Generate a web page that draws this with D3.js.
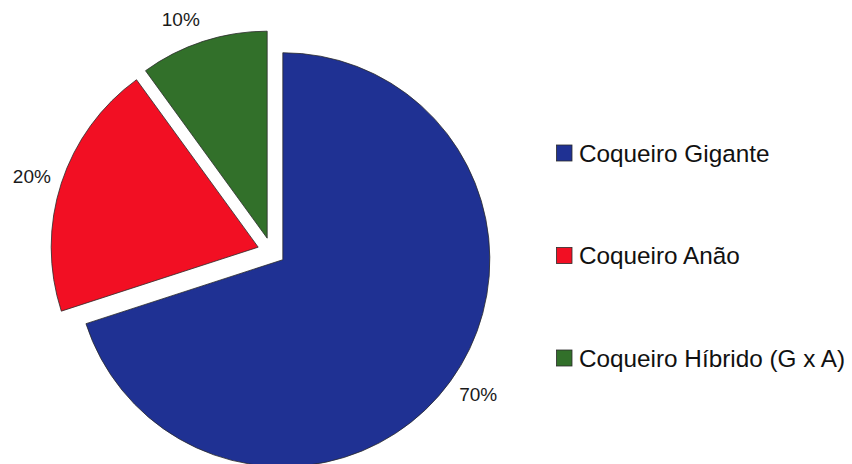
<!DOCTYPE html>
<html>
<head>
<meta charset="utf-8">
<script src="https://cdn.jsdelivr.net/npm/d3@7"></script>
<style>
  html, body { margin: 0; padding: 0; background: #fff; }
  svg { display: block; }
</style>
</head>
<body>
<svg id="chart" width="852" height="464"></svg>
<script>
// Cultivar shares
const categories = ["Coqueiro Gigante", "Coqueiro Anão", "Coqueiro Híbrido (G x A)"];
const shares = [70, 20, 10];
const percentLabels = ["70%", "20%", "10%"];
const colors = ["#1f3193", "#f20f23", "#32702a"];

const W = 852, H = 464;
const cx = 271.5, cy = 251.5;   // pie centre
const radius = 207;
const explode = 14;             // every slice pulled out along its mid-angle
const labelR = 232;

const svg = d3.select("#chart");
const font = "'Liberation Sans', Arial, sans-serif";

const data = categories.map((c, i) => ({ name: c, value: shares[i], label: percentLabels[i], color: colors[i] }));

const pie = d3.pie().value(d => d.value).sort(null).startAngle(0).endAngle(2 * Math.PI);
const arc = d3.arc().innerRadius(0).outerRadius(radius);
const arcs = pie(data);

const g = svg.append("g").attr("transform", `translate(${cx},${cy})`);

g.selectAll("path.slice")
  .data(arcs)
  .join("path")
  .attr("class", "slice")
  .attr("transform", d => {
    const a = (d.startAngle + d.endAngle) / 2;
    return `translate(${Math.sin(a) * explode},${-Math.cos(a) * explode})`;
  })
  .attr("d", arc)
  .attr("fill", d => d.data.color)
  .attr("stroke", "#2b2b2b")
  .attr("stroke-width", 0.8);

// Percentage labels just outside each slice
const fs = 19;
g.selectAll("text.pct")
  .data(arcs)
  .join("text")
  .attr("class", "pct")
  .attr("x", d => {
    const a = (d.startAngle + d.endAngle) / 2;
    return Math.sin(a) * labelR;
  })
  .attr("y", d => {
    const a = (d.startAngle + d.endAngle) / 2;
    const py = -Math.cos(a) * labelR;
    return py - Math.cos(a) * 12;
  })
  .attr("text-anchor", d => Math.sin((d.startAngle + d.endAngle) / 2) >= 0 ? "start" : "end")
  .attr("dominant-baseline", "central")
  .attr("font-family", font)
  .attr("font-size", fs)
  .attr("fill", "#1a1a1a")
  .text(d => d.data.label);

// Legend
const legendY = d3.scalePoint().domain(categories).range([161.5, 366.5]);
const legend = svg.append("g");
const items = legend.selectAll("g.item")
  .data(data)
  .join("g")
  .attr("class", "item")
  .attr("transform", d => `translate(556,${legendY(d.name)})`);

items.append("rect")
  .attr("x", 0.5).attr("y", -16.5)
  .attr("width", 15.5).attr("height", 16)
  .attr("fill", d => d.color)
  .attr("stroke", "#2b2b2b")
  .attr("stroke-width", 0.8);

items.append("text")
  .attr("x", 23)
  .attr("y", 0)
  .attr("font-family", font)
  .attr("font-size", 24.3)
  .attr("fill", "#111")
  .text(d => d.name);
</script>
</body>
</html>
